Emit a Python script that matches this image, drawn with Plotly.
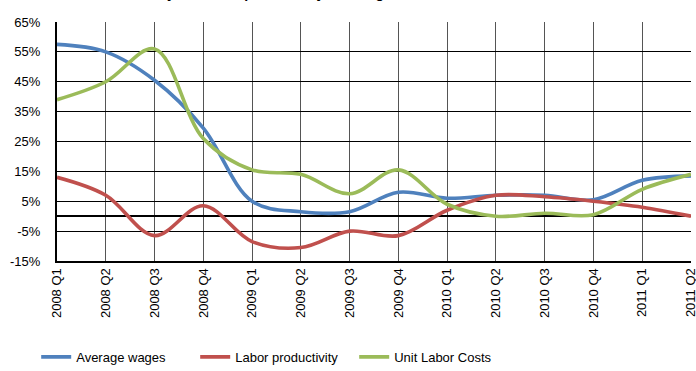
import plotly.graph_objects as go

# Quarterly periods and the three indicator series (% change, year on year)
quarters = ["2008 Q1", "2008 Q2", "2008 Q3", "2008 Q4",
            "2009 Q1", "2009 Q2", "2009 Q3", "2009 Q4",
            "2010 Q1", "2010 Q2", "2010 Q3", "2010 Q4",
            "2011 Q1", "2011 Q2"]
average_wages = [57.5, 55, 45.5, 29.5, 5, 1.5, 1.5, 8, 6, 7, 7, 5.5, 12, 13.5]
labor_productivity = [13, 7, -6.5, 3.5, -8.5, -10.5, -5, -6.5, 2, 7, 6.5, 5, 3, 0]
unit_labor_costs = [39, 45, 56, 26, 15.5, 14, 7.5, 15.5, 4, 0, 1, 0.5, 9, 14]

y_ticks = [-15, -5, 5, 15, 25, 35, 45, 55, 65]

series = [
    ("Average wages", average_wages, "#4F81BD"),
    ("Labor productivity", labor_productivity, "#C0504D"),
    ("Unit Labor Costs", unit_labor_costs, "#9BBB59"),
]

x_idx = list(range(len(quarters)))

fig = go.Figure()
for name, values, color in series:
    fig.add_trace(go.Scatter(
        x=x_idx, y=values, name=name, mode="lines",
        line=dict(color=color, width=3.6, shape="spline", smoothing=1.0),
    ))

# chart heading, sitting above the plot area at the very top of the page
fig.add_annotation(
    text="<b>Dynamics of productivity and wages</b>",
    xref="paper", yref="paper", x=0.35, y=1, xanchor="center", yanchor="bottom",
    yshift=19, showarrow=False, font=dict(size=14, color="black"),
)

fig.update_layout(
    width=696, height=371,
    margin=dict(l=57, r=5, t=22, b=110, autoexpand=False),
    paper_bgcolor="white", plot_bgcolor="white",
    font=dict(family="Liberation Sans, Arial, sans-serif", size=13, color="black"),
    showlegend=True,
    legend=dict(orientation="h", xref="container", x=0.052, xanchor="left",
                yref="container", y=0.038, yanchor="middle",
                font=dict(size=13), entrywidth=114, entrywidthmode="pixels",
                itemwidth=30, bgcolor="rgba(0,0,0,0)"),
)

fig.update_xaxes(
    range=[0, len(quarters) - 1],
    tickmode="array", tickvals=x_idx, ticktext=quarters, tickangle=-90,
    showgrid=True, gridcolor="#555555", gridwidth=1,
    showline=True, linecolor="black", linewidth=2,
    ticks="", zeroline=False, fixedrange=True, automargin=False,
    ticklabeloverflow="allow", tickfont=dict(size=13),
)
fig.update_yaxes(
    range=[-15, 65], tickmode="array", tickvals=y_ticks,
    ticktext=[f"{v}%" for v in y_ticks],
    showgrid=True, gridcolor="black", gridwidth=1,
    zeroline=True, zerolinecolor="black", zerolinewidth=2,
    showline=True, linecolor="black", linewidth=2,
    ticks="", ticklabelstandoff=12, fixedrange=True, automargin=False,
    ticklabeloverflow="allow", tickfont=dict(size=13),
)

fig.write_html("out.html")
